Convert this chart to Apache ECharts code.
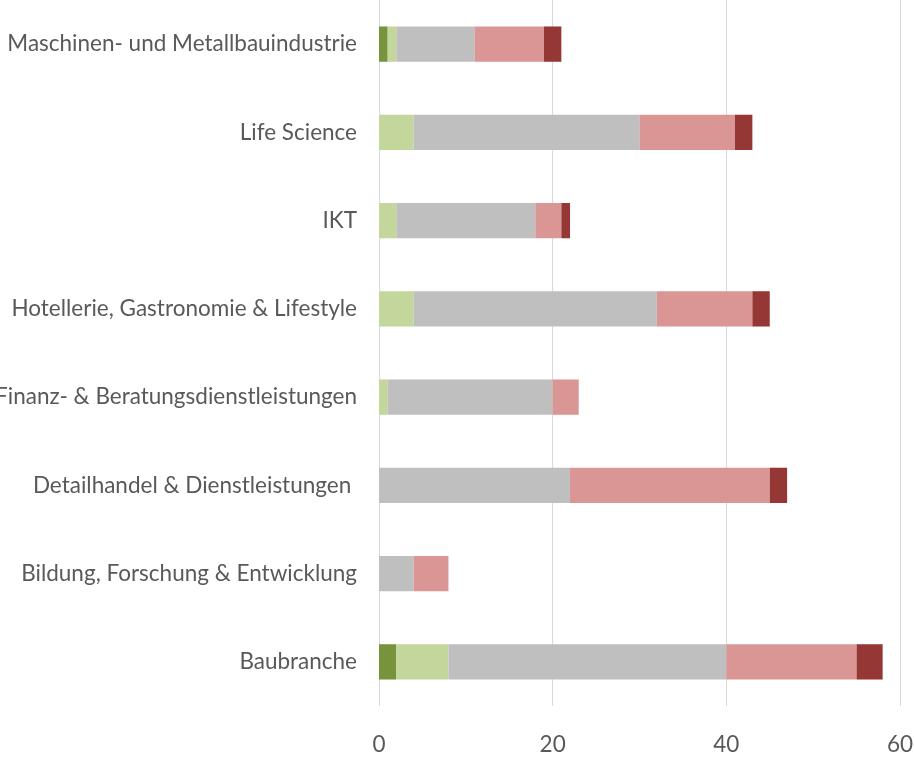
<!DOCTYPE html>
<html><head><meta charset="utf-8">
<script src="https://cdn.jsdelivr.net/npm/echarts@6/dist/echarts.min.js"></script>
<style>html,body{margin:0;padding:0;background:#fff}#c{width:914px;height:757px}</style>
</head><body><div id="c"></div>
<script>
const categories = ['Baubranche','Bildung, Forschung & Entwicklung','Detailhandel & Dienstleistungen ','Finanz- & Beratungsdienstleistungen','Hotellerie, Gastronomie & Lifestyle','IKT','Life Science','Maschinen- und Metallbauindustrie'];
const s1 = [2,0,0,0,0,0,0,1];
const s2 = [6,0,0,1,4,2,4,1];
const s3 = [32,4,22,19,28,16,26,9];
const s4 = [15,4,23,3,11,3,11,8];
const s5 = [3,0,2,0,2,1,2,2];
const xTicks = [0,20,40,60];
const colors = ['#77933C','#C3D69B','#BFBFBF','#D99694','#953735'];
const chart = echarts.init(document.getElementById('c'));
const mk = (d,i) => ({type:'bar',stack:'a',data:d,barWidth:'40%',itemStyle:{color:colors[i]},silent:true});
chart.setOption({
  animation:false,
  grid:{left:379,right:14,top:0,bottom:51,containLabel:false,outerBoundsMode:'none'},
  xAxis:{type:'value',min:xTicks[0],max:xTicks[xTicks.length-1],interval:20,
    axisLine:{show:false},axisTick:{show:false},
    splitLine:{lineStyle:{color:'#D9D9D9',width:1}},
    axisLabel:{color:'#595959',fontSize:22.5,fontFamily:'Lato',margin:27}},
  yAxis:{type:'category',data:categories,axisLine:{show:false},axisTick:{show:false},
    axisLabel:{color:'#595959',fontSize:22.5,fontFamily:'Lato',margin:22}},
  series:[mk(s1,0),mk(s2,1),mk(s3,2),mk(s4,3),mk(s5,4)]
});
</script></body></html>
